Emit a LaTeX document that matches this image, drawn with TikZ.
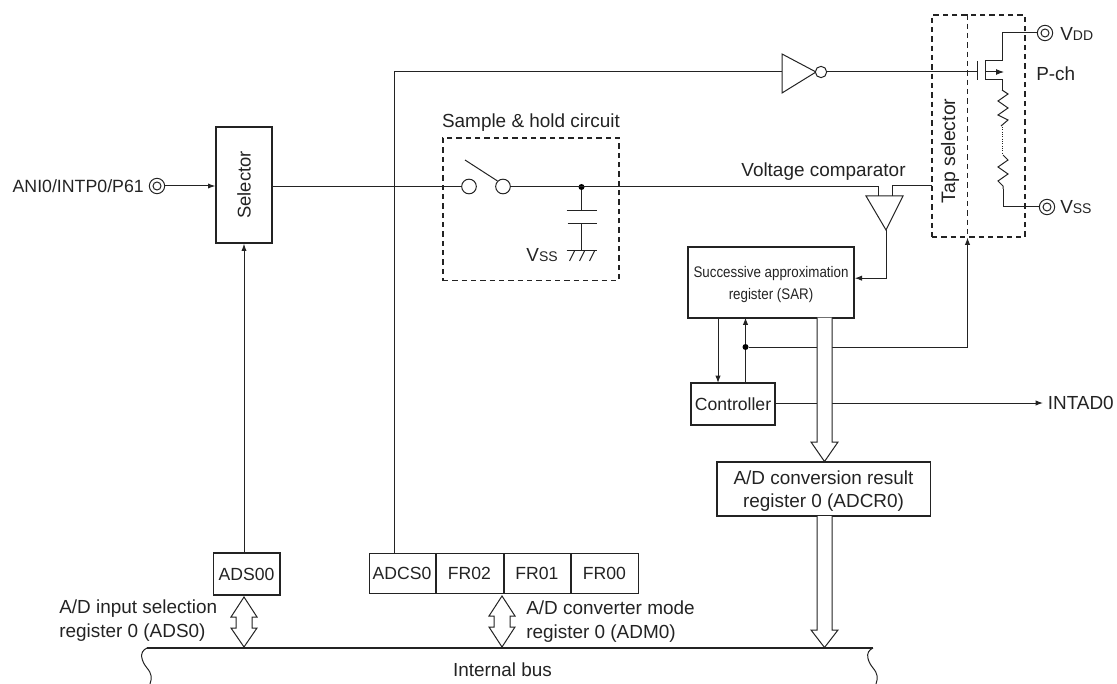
\documentclass[tikz,border=0pt]{standalone}
\usepackage{fontspec}
\setmainfont{Liberation Sans}
\definecolor{inkgray}{RGB}{35,35,35}
\usetikzlibrary{arrows.meta,positioning,calc}

\begin{document}
\begin{tikzpicture}[
  x=0.75pt, y=-0.75pt,
  wire/.style={draw=inkgray, line width=0.75pt},
  flow/.style={wire, -{Latex[length=5.5pt,width=4pt]}},
  box/.style={draw=inkgray, line width=1pt, inner sep=0pt, align=center, text=inkgray, font=\fontsize{13.2}{17}\selectfont},
  dashbox/.style={draw=inkgray, line width=1pt, dash pattern=on 4pt off 3pt, inner sep=0pt},
  lbl/.style={inner sep=0pt, align=left, text=inkgray, font=\fontsize{14.2}{18}\selectfont},
  pin/.style={draw=inkgray, fill=white, line width=0.75pt, circle, inner sep=0pt, minimum size=11.5pt},
  pinin/.style={draw=inkgray, line width=0.75pt, circle, inner sep=0pt, minimum size=6pt},
  dotc/.style={fill=black, circle, inner sep=0pt, minimum size=4.5pt},
  contact/.style={draw=inkgray, fill=white, line width=0.75pt, circle, inner sep=0pt, minimum size=11pt},
  busarrow/.style={draw=inkgray, fill=white, line width=0.75pt, line join=miter}
]
  \useasboundingbox (0,0) rectangle (1117,684);

  %% Registers
  \node[box, minimum width=50pt, minimum height=31.5pt] (ads) at (246.5,574) {ADS00};
  \node[box, minimum width=49.5pt, minimum height=30pt, line width=0.75pt] (adcs) at (402,573) {ADCS0};
  \node[box, minimum width=50.25pt, minimum height=30pt, anchor=west, line width=0.75pt] (fr2) at (adcs.east) {FR02};
  \node[box, minimum width=49.5pt, minimum height=30pt, anchor=west, line width=0.75pt] (fr1) at (fr2.east) {FR01};
  \node[box, minimum width=50.25pt, minimum height=30pt, anchor=west, line width=0.75pt] (fr0) at (fr1.east) {FR00};

  %% Selector and input pin
  \node[box, minimum width=42pt, minimum height=87pt, font=\fontsize{13.8}{17}\selectfont] (sel) at (244,185) {\rotatebox{90}{Selector}};
  \node[pin] (ani) at (157,186) {};
  \node[pinin] (anii) at (ani) {};
  \node[lbl, anchor=east, font=\fontsize{13.3}{17}\selectfont] (anilbl) at (144,186) {ANI0/INTP0/P61};
  \draw[flow] (ani.east) -- (ani.east -| sel.west);
  \draw[flow] (ads.north -| sel.south) -- (sel.south);

  %% Sample and hold
  \node[dashbox, minimum width=132pt, minimum height=107pt] (sh) at (531,209.5) {};
  \node[lbl] (shlbl) at (531,122.5) {Sample \& hold circuit};
  \node[contact] (swa) at (469,186.5) {};
  \node[contact] (swb) at (503,186.5) {};
  \coordinate (arm) at (465,160);
  \draw[wire] (sel.east |- swa) -- (swa.west);
  \draw[wire] (arm) -- (swb.north west);
  \node[dotc] (junc) at (581.5,187) {};
  \coordinate (capa) at (581.5,211);
  \coordinate (capb) at (581.5,224);
  \coordinate (gnd) at (581.5,251);
  \draw[wire] (junc) -- (capa);
  \draw[wire] (capb) -- (gnd);
  \draw[wire] ($(capa)+(-15,0)$) -- ($(capa)+(15,0)$);
  \draw[wire] ($(capb)+(-14,0)$) -- ($(capb)+(15,0)$);
  \draw[wire] ($(gnd)+(-15,0)$) -- ($(gnd)+(15,0)$);
  \foreach \i in {-7,3,13}
    \draw[wire] ($(gnd)+(\i,0)$) -- ++(-5,10);
  \node[lbl, anchor=east] (vssa) at (558,255) {V{\fontsize{10.5}{12}\selectfont SS}};

  %% Comparator
  \coordinate (cmpl) at (878,196);
  \coordinate (cmpr) at (892,196);
  \coordinate (cmpo) at (886,230);
  \draw[wire, fill=white] (866,196) -- (903,196) -- (cmpo) -- cycle;
  \node[lbl, anchor=base] (cmplbl) at (823.5,177) {Voltage comparator};

  %% SAR, controller, result register
  \node[box, minimum width=124.5pt, minimum height=53pt, font=\fontsize{11.5}{17}\selectfont] (sar) at (771,282.5) {\rule{0pt}{11.5pt}\scalebox{0.87}[1]{Successive approximation}\\\scalebox{0.87}[1]{register (SAR)}};
  \node[box, minimum width=63pt, minimum height=31.5pt] (ctl) at (733,404) {Controller};
  \node[box, minimum width=160pt, minimum height=40.5pt, font=\fontsize{14.2}{17}\selectfont] (adcr) at (823.5,489) {\rule{0pt}{13pt}A/D conversion result\\register 0 (ADCR0)};
  \draw[flow] (cmpo) |- ($(sar.north east)!0.44!(sar.south east)$);
  \draw[flow] (718,317.5) -- (718,383);
  \draw[flow] (745.5,383) -- (745.5,317.5);
  \node[dotc] (fb) at (745.5,347) {};

  %% Tap selector and ladder
  \node[dashbox, minimum width=69.75pt, minimum height=166.5pt] (tap) at (978.5,126) {};
  \node[lbl, rotate=90, font=\fontsize{14.6}{18}\selectfont] (taplbl) at (950,151) {Tap selector};
  \draw[wire, dash pattern=on 4pt off 3pt, line width=1pt] (tap.north -| 967.5,0) -- (967.5,237);
  \draw[wire] (cmpr) -- (892,186) -- (932,186);
  \draw[wire] (swb.east) -- (878,186.5) -- (cmpl);
  \draw[wire] (fb) -- (817,347);
  \draw[flow] (832,347) -- (967.5,347) -- (967.5,237.5);

  %% Inverter and P-ch
  \coordinate (invin) at (782,72);
  \draw[wire, fill=white] (782,54) -- (816,72) -- (782,93) -- cycle;
  \node[contact, minimum size=8.5pt] (invo) at (821,72) {};
  \coordinate (gate) at (977,72);
  \draw[wire] (adcs.north -| 394,0) -- (394,72) -- (invin);
  \draw[wire] (invo.east) -- (gate);
  \draw[wire] (977,61) -- (977,80);
  \draw[wire] (1002,33) -- (1002,61) -- (985,61) -- (985,80) -- (1002,80) -- (1002,90);
  \draw[wire, -{Latex[length=6pt,width=4.5pt]}] (985,72) -- (1004,72);
  \node[pin] (vdd) at (1045,33) {};
  \node[pinin] (vddi) at (vdd) {};
  \node[pin] (vss) at (1047,207) {};
  \node[pinin] (vssi) at (vss) {};
  \draw[wire] (1002,33) -- (vdd.west);
  \draw[wire] (1003,189) -- (1003,207) -- (vss.west);
  \draw[wire] (1002,90) -- (1008,94) -- (998,101) -- (1008,108) -- (998,115) -- (1008,120) -- (1001,126);
  \draw[wire] (1003,155) -- (1008,160) -- (998,167) -- (1008,174) -- (998,181) -- (1003,186) -- (1003,189);
  \draw[wire, densely dotted] (1002,127) -- (1002,154);
  \node[lbl, anchor=west] (vddlbl) at (1060,34) {V{\fontsize{10.5}{12}\selectfont DD}};
  \node[lbl, anchor=west] (vsslbl) at (1060,207) {V{\fontsize{10.5}{12}\selectfont SS}};
  \node[lbl, anchor=west] (pch) at (1036,74) {P-ch};

  %% Interrupt output
  \draw[wire] (ctl.east |- 0,403) -- (817,403);
  \draw[flow] (832,403) -- (1043,403);
  \node[lbl, anchor=east] (intad) at (1114,403) {INTAD0};

  %% Internal bus
  \coordinate (busl) at (147,648);
  \coordinate (busr) at (873,648);
  \draw[wire, line width=1pt] (busl) -- (busr);
  \draw[wire] (busl) .. controls (138,652) and (142,662) .. (147,668) .. controls (152,674) and (152,678) .. (150,684);
  \draw[wire] (busr) .. controls (864,652) and (868,662) .. (873,668) .. controls (878,674) and (878,678) .. (876,684);
  \node[lbl] (buslbl) at (502.5,670) {Internal bus};

  %% Bus arrows
  \draw[busarrow] (817,317.5) -- (817,442) -- (811,442) -- (824.5,461.5) -- (838,442) -- (832,442) -- (832,317.5);
  \draw[busarrow] (817,516) -- (817,630) -- (811,630) -- (824.5,647.5) -- (838,630) -- (832,630) -- (832,516);
  \draw[busarrow] (244,597) -- ++(13,20) -- ++(-5,0) -- ++(0,11) -- ++(5,0) -- ++(-13,19) -- ++(-13,-19) -- ++(5,0) -- ++(0,-11) -- ++(-5,0) -- cycle;
  \draw[busarrow] (502,596) -- ++(13,20) -- ++(-5,0) -- ++(0,11) -- ++(5,0) -- ++(-13,20) -- ++(-13,-20) -- ++(5,0) -- ++(0,-11) -- ++(-5,0) -- cycle;
  \node[lbl, anchor=north west] (adslbl) at (59,600) {A/D input selection\\register 0 (ADS0)};
  \node[lbl, anchor=north west] (admlbl) at (526,601) {A/D converter mode\\register 0 (ADM0)};
\end{tikzpicture}
\end{document}
